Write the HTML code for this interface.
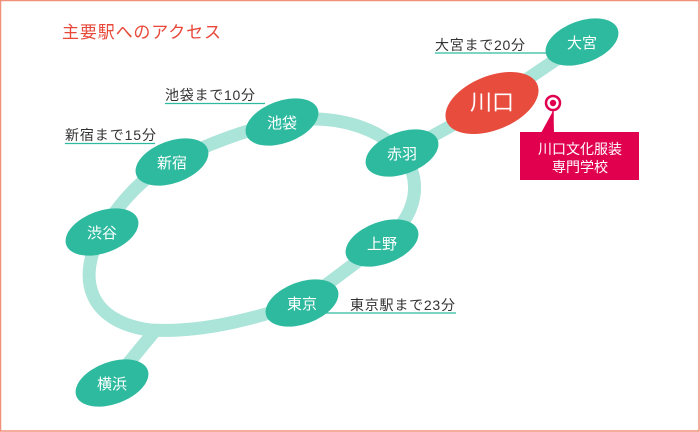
<!DOCTYPE html>
<html><head><meta charset="utf-8">
<style>
html,body{margin:0;padding:0;background:#fff;}
svg{display:block;}
text{font-family:"Liberation Sans","Noto Sans CJK JP",sans-serif;}
</style></head>
<body>
<svg width="700" height="432" viewBox="0 0 700 432" xmlns="http://www.w3.org/2000/svg">
<rect x="0.5" y="0.5" width="698.5" height="430.5" fill="#fff" stroke="#f0917b" stroke-width="1.5"/>
<text x="62" y="38" font-size="17" fill="#e8483a" textLength="159" lengthAdjust="spacing">主要駅へのアクセス</text>

<!-- tracks -->
<g fill="none" stroke="#abe4d8" stroke-width="13" stroke-linecap="round">
<path d="M582 42 L492 103 L402 153"/>
<path d="M402 153 C422 178 420 215 382 243 L302 303 C250 320 200 333 150 330 C90 322 75 280 102 232 C118 205 140 178 172 162 C205 145 245 130 282 122 C330 113 375 125 402 153"/>
<path d="M154 332 L112 383"/>
</g>

<!-- underlines -->
<g stroke="#2dba9e" stroke-width="1.2">
<line x1="165" y1="103.5" x2="265" y2="103.5"/>
<line x1="65" y1="143.5" x2="155" y2="143.5"/>
<line x1="435" y1="53" x2="550" y2="53"/>
<line x1="322" y1="313" x2="456" y2="313"/>
</g>
<g font-size="14" fill="#333">
<text x="165" y="100" textLength="90" lengthAdjust="spacing">池袋まで10分</text>
<text x="65" y="140" textLength="91" lengthAdjust="spacing">新宿まで15分</text>
<text x="435" y="50" textLength="90" lengthAdjust="spacing">大宮まで20分</text>
<text x="350" y="310" textLength="105" lengthAdjust="spacing">東京駅まで23分</text>
</g>

<!-- stations -->
<g fill="#2dba9e">
<ellipse cx="582" cy="42" rx="38" ry="21" transform="rotate(-20 582 42)"/>
<ellipse cx="402" cy="153" rx="38" ry="21" transform="rotate(-20 402 153)"/>
<ellipse cx="382" cy="243" rx="38" ry="21" transform="rotate(-20 382 243)"/>
<ellipse cx="302" cy="303" rx="38" ry="21" transform="rotate(-20 302 303)"/>
<ellipse cx="282" cy="122" rx="38" ry="21" transform="rotate(-20 282 122)"/>
<ellipse cx="172" cy="162" rx="38" ry="21" transform="rotate(-20 172 162)"/>
<ellipse cx="102" cy="232" rx="38" ry="21" transform="rotate(-20 102 232)"/>
<ellipse cx="112" cy="383" rx="38" ry="21" transform="rotate(-20 112 383)"/>
</g>
<ellipse cx="492" cy="103" rx="49" ry="27" transform="rotate(-22 492 103)" fill="#e84c3d"/>

<g font-size="15" fill="#fff" text-anchor="middle">
<text x="582" y="48">大宮</text>
<text x="402" y="159">赤羽</text>
<text x="382" y="249">上野</text>
<text x="302" y="309">東京</text>
<text x="282" y="128">池袋</text>
<text x="172" y="168">新宿</text>
<text x="102" y="238">渋谷</text>
<text x="112" y="389">横浜</text>
</g>
<text x="492" y="110" font-size="22" fill="#fff" text-anchor="middle">川口</text>

<!-- pin & callout -->
<circle cx="553" cy="103" r="7" fill="#fff" stroke="#e0004e" stroke-width="2.5"/>
<circle cx="553" cy="103" r="3.2" fill="#e0004e"/>
<line x1="553" y1="110" x2="553" y2="133" stroke="#e0004e" stroke-width="1.5"/>
<polygon points="553,111 554,133 541,133" fill="#e0004e"/>
<rect x="520" y="132" width="119" height="48" fill="#e0004e"/>
<g font-size="14" fill="#fff" text-anchor="middle">
<text x="580" y="154">川口文化服装</text>
<text x="580" y="172">専門学校</text>
</g>
</svg>
</body></html>
